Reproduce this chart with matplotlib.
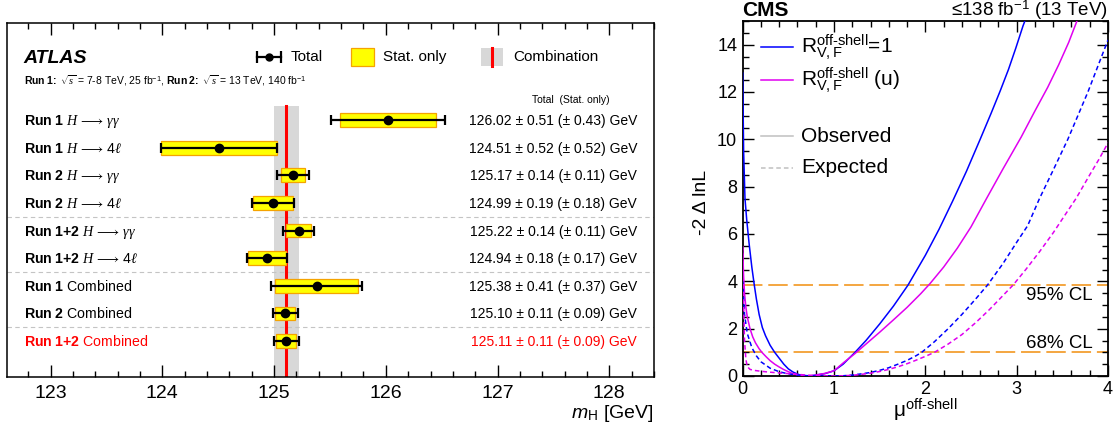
import matplotlib
matplotlib.use("Agg")
import matplotlib.pyplot as plt
import matplotlib.transforms as mtransforms
from matplotlib.patches import Rectangle
from matplotlib.ticker import MultipleLocator
import numpy as np

plt.rcParams["font.family"] = ["Liberation Sans", "DejaVu Sans"]
plt.rcParams["mathtext.fontset"] = "custom"
plt.rcParams["mathtext.rm"] = "Liberation Sans"
plt.rcParams["mathtext.it"] = "Liberation Serif:italic"
plt.rcParams["mathtext.bf"] = "Liberation Sans:bold"
plt.rcParams["mathtext.sf"] = "Liberation Sans:italic"

# ---- ATLAS mass measurements ----
run_labels = [r"Run\ 1", r"Run\ 1", r"Run\ 2", r"Run\ 2", r"Run\ 1{+}2",
              r"Run\ 1{+}2", r"Run\ 1", r"Run\ 2", r"Run\ 1{+}2"]
channel_labels = [r"$H\,\longrightarrow\,\gamma\gamma$", r"$H\,\longrightarrow\,4\ell$",
                  r"$H\,\longrightarrow\,\gamma\gamma$", r"$H\,\longrightarrow\,4\ell$",
                  r"$H\,\longrightarrow\,\gamma\gamma$", r"$H\,\longrightarrow\,4\ell$",
                  "Combined", "Combined", "Combined"]
mass = [126.02, 124.51, 125.17, 124.99, 125.22, 124.94, 125.38, 125.10, 125.11]
total_err = [0.51, 0.52, 0.14, 0.19, 0.14, 0.18, 0.41, 0.11, 0.11]
stat_err = [0.43, 0.52, 0.11, 0.18, 0.11, 0.17, 0.37, 0.09, 0.09]
separators = [3.5, 5.5, 7.5]

# ---- CMS off-shell likelihood scans ----
mu_obs_r1 = [0.0, 0.01, 0.025, 0.044, 0.07, 0.1, 0.127, 0.15, 0.18, 0.215,
             0.25, 0.3, 0.35, 0.4, 0.45, 0.5, 0.55, 0.6, 0.65, 0.7, 0.75, 0.8,
             0.9, 1.0, 1.1, 1.23, 1.35, 1.5, 1.65, 1.81, 2.0, 2.15, 2.3, 2.45,
             2.6, 2.72, 2.82, 2.91, 2.99, 3.07, 3.09]
nll_obs_r1 = [12.8, 9.5, 7.5, 6.6, 5.6, 4.6, 3.84, 3.25, 2.6, 2.05,
              1.7, 1.3, 1.0, 0.75, 0.5, 0.3, 0.17, 0.08, 0.02, 0.0, 0.01, 0.04,
              0.1, 0.22, 0.5, 1.0, 1.5, 2.2, 2.95, 3.84, 5.1, 6.2, 7.4, 8.65,
              10.0, 11.1, 12.05, 12.95, 13.85, 14.8, 15.0]

mu_obs_u = [0.0, 0.01, 0.02, 0.035, 0.05, 0.08, 0.11, 0.14, 0.18, 0.21, 0.26,
            0.3, 0.35, 0.4, 0.45, 0.5, 0.55, 0.6, 0.65, 0.7, 0.75, 0.8, 0.9,
            1.0, 1.1, 1.23, 1.35, 1.5, 1.65, 1.8, 1.95, 2.05, 2.2, 2.35, 2.5,
            2.67, 2.85, 3.05, 3.2, 3.34, 3.46, 3.57, 3.66]
nll_obs_u = [5.4, 4.2, 3.5, 2.9, 2.5, 2.0, 1.65, 1.4, 1.15, 1.0, 0.8,
             0.65, 0.5, 0.38, 0.27, 0.18, 0.1, 0.05, 0.015, 0.0, 0.01, 0.04, 0.11,
             0.22, 0.55, 0.95, 1.35, 1.85, 2.37, 2.9, 3.48, 3.9, 4.6, 5.4, 6.3,
             7.5, 8.75, 10.1, 11.2, 12.2, 13.15, 14.1, 15.0]

mu_exp_r1 = [0.0, 0.02, 0.05, 0.1, 0.15, 0.2, 0.3, 0.4, 0.5, 0.6, 0.7, 0.8,
             0.9, 1.0, 1.1, 1.2, 1.3, 1.4, 1.5, 1.6, 1.7, 1.8, 1.9, 1.96, 2.1,
             2.25, 2.4, 2.55, 2.68, 2.85, 3.0, 3.12, 3.25, 3.4, 3.56, 3.67,
             3.78, 3.88, 3.98, 4.0]
nll_exp_r1 = [4.0, 2.6, 1.8, 1.2, 0.85, 0.6, 0.33, 0.18, 0.09, 0.04, 0.015, 0.004,
              0.0, 0.0, 0.01, 0.04, 0.09, 0.15, 0.24, 0.35, 0.5, 0.66, 0.86, 1.0,
              1.45, 2.0, 2.6, 3.25, 3.84, 4.75, 5.65, 6.35, 7.5, 8.7, 10.0, 11.0,
              12.0, 13.0, 14.0, 14.2]

mu_exp_u = [0.0, 0.01, 0.02, 0.035, 0.05, 0.08, 0.12, 0.2, 0.3, 0.4, 0.5, 0.6,
            0.7, 0.8, 0.9, 1.0, 1.1, 1.2, 1.3, 1.4, 1.5, 1.6, 1.7, 1.8, 1.9,
            2.0, 2.1, 2.25, 2.4, 2.55, 2.7, 2.85, 2.96, 3.1, 3.25, 3.4, 3.52,
            3.65, 3.8, 3.9, 4.0]
nll_exp_u = [5.5, 3.0, 1.5, 0.7, 0.4, 0.28, 0.24, 0.2, 0.16, 0.13, 0.1, 0.07,
             0.04, 0.02, 0.005, 0.0, 0.01, 0.03, 0.07, 0.12, 0.19, 0.28, 0.39,
             0.52, 0.67, 0.83, 1.0, 1.35, 1.75, 2.25, 2.8, 3.4, 3.84, 4.5, 5.25,
             6.05, 6.75, 7.5, 8.5, 9.15, 9.85]

cl_levels = [1.0, 3.84]
cl_labels = ["68% CL", "95% CL"]

fig = plt.figure(figsize=(11.18, 4.29), dpi=100)

# ================= left: ATLAS =================
ax = fig.add_axes([7 / 1118, 52 / 429, 647 / 1118, 354 / 429])
rows = np.arange(len(mass))
ax.set_xlim(122.61, 128.40)
ax.set_ylim(9.3, -3.51)

comb_m, comb_err = mass[-1], total_err[-1]
ax.axvspan(comb_m - comb_err, comb_m + comb_err, ymin=0, ymax=0.766,
           color="#d8d8d8", lw=0, zorder=1)
ax.axvline(comb_m, ymin=0, ymax=0.766, color="red", lw=2.2, zorder=2)

for y in separators:
    ax.axhline(y, color="#c4c4c4", lw=0.8, ls=(0, (4, 3)), zorder=1)

m = np.array(mass)
s = np.array(stat_err)
ax.barh(rows, 2 * s, left=m - s, height=0.5, color="#ffff00",
        edgecolor="#f5a300", lw=0.9, zorder=3)
ax.errorbar(m, rows, xerr=total_err, fmt="o", color="black", ms=6,
            elinewidth=1.6, capsize=3.8, capthick=1.6, zorder=4)

ax.xaxis.set_major_locator(MultipleLocator(1))
ax.xaxis.set_minor_locator(MultipleLocator(0.2))
ax.tick_params(axis="x", which="both", direction="in", top=True, bottom=True,
               labelsize=14, pad=6)
ax.tick_params(axis="x", which="major", length=8.5, width=1)
ax.tick_params(axis="x", which="minor", length=4.5, width=1)
ax.tick_params(axis="y", left=False, labelleft=False)
for sp in ax.spines.values():
    sp.set_linewidth(1.1)

trans = mtransforms.blended_transform_factory(ax.transAxes, ax.transData)
for i, val in enumerate(mass):
    col = "red" if i == len(mass) - 1 else "black"
    label = r"$\mathbf{" + run_labels[i] + r"}$ " + channel_labels[i]
    ax.text(0.026, i + 0.18, label, transform=trans, fontsize=10.2,
            color=col, va="baseline", ha="left")
    ax.text(0.974, i + 0.18,
            f"{val:.2f} ± {total_err[i]:.2f} (± {stat_err[i]:.2f}) GeV",
            transform=trans, fontsize=10, color=col, va="baseline", ha="right")

ax.text(0.872, 0.782, "Total  (Stat. only)", transform=ax.transAxes,
        fontsize=7.5, ha="center", va="center")
ax.text(0.026, 0.887, "ATLAS", transform=ax.transAxes, fontsize=14,
        fontweight="bold", fontstyle="italic", va="baseline")
ax.text(0.026, 0.836,
        r"$\mathbf{Run\ 1\!:}$ $\sqrt{s}$ = 7-8 TeV, 25 fb$^{-1}$, "
        r"$\mathbf{Run\ 2\!:}$ $\sqrt{s}$ = 13 TeV, 140 fb$^{-1}$",
        transform=ax.transAxes, fontsize=7.5, va="center")

# legend
ly = 0.904
ax.plot([0.386, 0.423], [ly, ly], transform=ax.transAxes, color="black", lw=1.6)
ax.plot([0.386, 0.423], [ly, ly], transform=ax.transAxes, ls="none",
        marker="|", ms=8, mew=1.6, color="black")
ax.plot([0.4045], [ly], transform=ax.transAxes, marker="o", ms=5, color="black")
ax.text(0.439, ly, "Total", transform=ax.transAxes, fontsize=11, va="center")
ax.add_patch(Rectangle((0.532, 0.878), 0.035, 0.051, transform=ax.transAxes,
                       facecolor="#ffff00", edgecolor="#f5a300", lw=0.9))
ax.text(0.581, ly, "Stat. only", transform=ax.transAxes, fontsize=11, va="center")
ax.add_patch(Rectangle((0.733, 0.878), 0.034, 0.051, transform=ax.transAxes,
                       facecolor="#d8d8d8", edgecolor="none"))
ax.plot([0.750, 0.750], [0.878, 0.929], transform=ax.transAxes, color="red", lw=2.2)
ax.text(0.782, ly, "Combination", transform=ax.transAxes, fontsize=11, va="center")

fig.text(654 / 1118, 1 - 414 / 429, r"$\mathsf{m}_{\mathrm{H}}$ [GeV]", fontsize=14,
         ha="right", va="center")

# ================= right: CMS =================
bx = fig.add_axes([742.7 / 1118, 53 / 429, 365.3 / 1118, 355 / 429])
bx.set_xlim(0, 4)
bx.set_ylim(0, 15)

for lvl in cl_levels:
    bx.axhline(lvl, color="#f4a640", lw=1.4, ls=(0, (10, 3)), zorder=1)
bx.text(3.83, 3.39, cl_labels[1], fontsize=13.5, ha="right", va="center")
bx.text(3.83, 1.36, cl_labels[0], fontsize=13.5, ha="right", va="center")

bx.plot(mu_obs_r1, nll_obs_r1, color="#0000ff", lw=1.1, zorder=3)
bx.plot(mu_obs_u, nll_obs_u, color="#e000f0", lw=1.1, zorder=3)
bx.plot(mu_exp_r1, nll_exp_r1, color="#0000ff", lw=1.1, ls=(0, (3, 2)), zorder=3)
bx.plot(mu_exp_u, nll_exp_u, color="#e000f0", lw=1.1, ls=(0, (3, 2)), zorder=3)

bx.xaxis.set_major_locator(MultipleLocator(1))
bx.xaxis.set_minor_locator(MultipleLocator(0.2))
bx.yaxis.set_major_locator(MultipleLocator(2))
bx.yaxis.set_minor_locator(MultipleLocator(0.5))
bx.tick_params(which="both", direction="in", top=True, right=True,
               labelsize=13, width=1)
bx.tick_params(which="major", length=8)
bx.tick_params(which="minor", length=4)
bx.tick_params(axis="y", pad=4)
for sp in bx.spines.values():
    sp.set_linewidth(1.3)

# legend
legend_rows = [
    (0.927, "#0000ff", "-", r"$\mathrm{R}^{\text{off-shell}}_{\mathrm{V,F}}$=1"),
    (0.834, "#e000f0", "-", r"$\mathrm{R}^{\text{off-shell}}_{\mathrm{V,F}}$ (u)"),
    (0.676, "#c0c0c0", "-", "Observed"),
    (0.586, "#c0c0c0", (0, (3, 2)), "Expected"),
]
for yy, col, style, txt in legend_rows:
    bx.plot([0.050, 0.138], [yy, yy], transform=bx.transAxes, color=col,
            lw=1.1, ls=style)
    bx.text(0.160, yy, txt, transform=bx.transAxes, fontsize=15, va="center")

fig.text(742 / 1118, 1 - 16 / 429, "CMS", fontsize=15, fontweight="bold",
         ha="left", va="baseline")
fig.text(1108 / 1118, 1 - 16 / 429, r"≤138 fb$^{-1}$ (13 TeV)", fontsize=13.5,
         ha="right", va="baseline")
fig.text(702 / 1118, 1 - 202 / 429, "-2 Δ lnL", fontsize=14, rotation=90,
         ha="center", va="center")
fig.text(925 / 1118, 1 - 410 / 429, r"$\mathrm{\mu}^{\text{off-shell}}$",
         fontsize=15, ha="center", va="center")

fig.savefig("out.png", dpi=100)
